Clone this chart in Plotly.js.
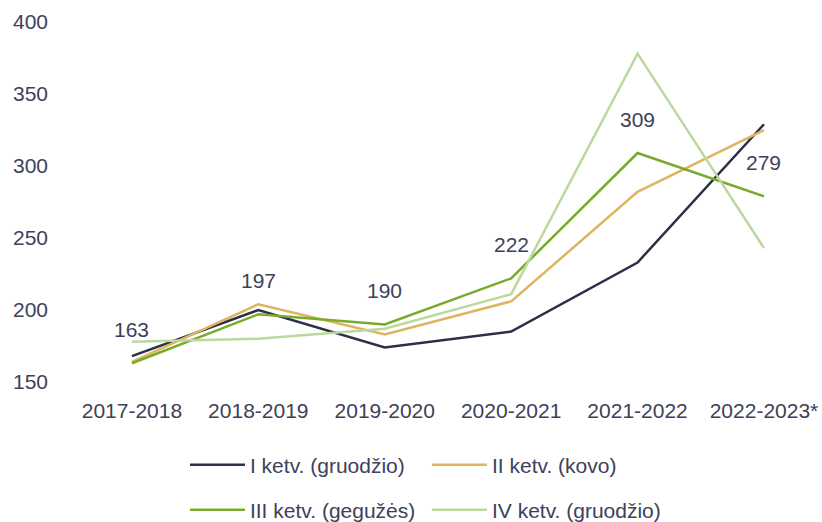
<!DOCTYPE html>
<html>
<head>
<meta charset="utf-8">
<script src="https://cdn.plot.ly/plotly-3.0.1.min.js"></script>
<style>html,body{margin:0;padding:0;background:#fff;}#chart{width:822px;height:522px;}</style>
</head>
<body>
<div id="chart"></div>
<script>
const categories = ["2017-2018", "2018-2019", "2019-2020", "2020-2021", "2021-2022", "2022-2023*"];
const seriesNames = ["I ketv. (gruodžio)", "II ketv. (kovo)", "III ketv. (gegužės)", "IV ketv. (gruodžio)"];
const q1 = [168, 200, 174, 185, 233, 329];
const q2 = [164, 204, 183, 206, 282, 325];
const q3 = [163, 197, 190, 222, 309, 279];
const q4 = [178, 180, 187, 211, 378, 243];
const labelValues = [163, 197, 190, 222, 309, 279];
const yTicks = [150, 200, 250, 300, 350, 400];

const colors = ["#2b2f47", "#dfb460", "#78ab2b", "#bcd89d"];
const font = "Liberation Sans, Arial, sans-serif";
const textColor = "#3d4159";

const allSeries = [q1, q2, q3, q4];
const traces = allSeries.map((vals, i) => ({
  type: "scatter",
  mode: "lines",
  x: categories,
  y: vals,
  name: seriesNames[i],
  line: {color: colors[i], width: 2.5},
  legend: i < 2 ? "legend" : "legend2",
  hoverinfo: "skip"
}));

const annotations = labelValues.map((v, i) => ({
  x: categories[i], y: q3[i], xref: "x", yref: "y",
  text: String(v), showarrow: false, yshift: 34,
  font: {family: font, size: 21, color: textColor}
}));

const legendCommon = {
  orientation: "h", xanchor: "left", yanchor: "middle",
  xref: "container", yref: "container",
  font: {family: font, size: 21, color: textColor},
  entrywidth: 172, itemwidth: 55, bgcolor: "rgba(0,0,0,0)", traceorder: "normal"
};

const layout = {
  width: 822, height: 522,
  margin: {l: 70, r: 10, t: 22, b: 140, autoexpand: false},
  paper_bgcolor: "#fff", plot_bgcolor: "#fff",
  showlegend: true,
  font: {family: font, size: 21, color: textColor},
  xaxis: {
    type: "category", range: [-0.49, 5.38],
    showgrid: false, zeroline: false, showline: false, ticks: "",
    tickfont: {family: font, size: 21, color: textColor},
    ticklabelstandoff: 14
  },
  yaxis: {
    range: [150, 400], tickvals: yTicks, ticktext: yTicks.map(String),
    showgrid: false, zeroline: false, showline: false, ticks: "",
    tickfont: {family: font, size: 21, color: textColor},
    ticklabelstandoff: 21
  },
  legend: Object.assign({}, legendCommon, {x: 0.225, y: 1 - 465 / 522}),
  legend2: Object.assign({}, legendCommon, {x: 0.225, y: 1 - 510 / 522}),
  annotations: annotations
};

Plotly.newPlot("chart", traces, layout, {displayModeBar: false, staticPlot: true});
</script>
</body>
</html>
